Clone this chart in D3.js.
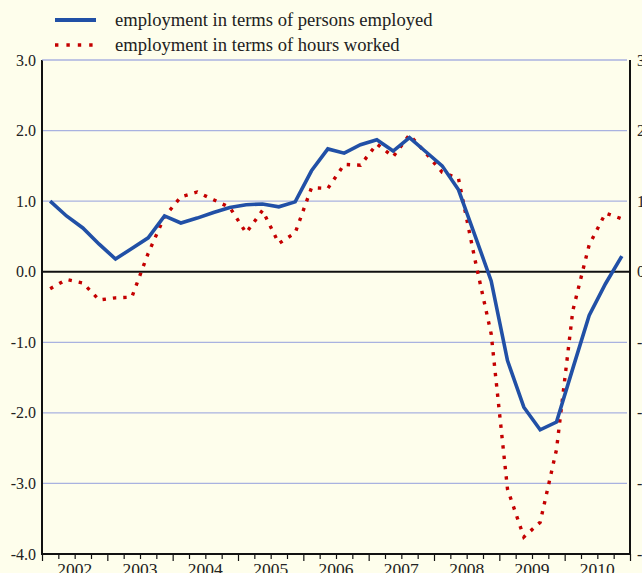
<!DOCTYPE html>
<html>
<head>
<meta charset="utf-8">
<script src="https://cdn.jsdelivr.net/npm/d3@7"></script>
<style>
  html, body { margin: 0; padding: 0; background: #fefeec; }
  svg { display: block; }
  text { font-family: "Liberation Serif", "Times New Roman", serif; fill: #222; }
</style>
</head>
<body>
<svg id="chart" width="642" height="573"></svg>
<script>
// Quarterly periods, 2002Q1 .. 2010Q4
const periods = [
  "2002Q1","2002Q2","2002Q3","2002Q4",
  "2003Q1","2003Q2","2003Q3","2003Q4",
  "2004Q1","2004Q2","2004Q3","2004Q4",
  "2005Q1","2005Q2","2005Q3","2005Q4",
  "2006Q1","2006Q2","2006Q3","2006Q4",
  "2007Q1","2007Q2","2007Q3","2007Q4",
  "2008Q1","2008Q2","2008Q3","2008Q4",
  "2009Q1","2009Q2","2009Q3","2009Q4",
  "2010Q1","2010Q2","2010Q3","2010Q4"
];

// Year-on-year change, %
const personsEmployed = [
  1.00, 0.79, 0.62, 0.39,
  0.18, 0.33, 0.48, 0.79,
  0.69, 0.76, 0.84, 0.91,
  0.95, 0.96, 0.92, 0.99,
  1.43, 1.74, 1.68, 1.80,
  1.87, 1.71, 1.90, 1.70,
  1.50, 1.16, 0.52, -0.13,
  -1.26, -1.92, -2.24, -2.13,
  -1.37, -0.62, -0.17, 0.22
];

const hoursWorked = [
  -0.24, -0.11, -0.16, -0.40,
  -0.37, -0.36, 0.26, 0.78,
  1.06, 1.13, 1.02, 0.91,
  0.55, 0.87, 0.40, 0.55,
  1.19, 1.18, 1.52, 1.51,
  1.81, 1.63, 1.94, 1.68,
  1.41, 1.32, 0.18, -0.88,
  -3.08, -3.76, -3.55, -2.52,
  -0.55, 0.38, 0.83, 0.75
];

const years = [2002, 2003, 2004, 2005, 2006, 2007, 2008, 2009, 2010];
const yTicks = [3, 2, 1, 0, -1, -2, -3, -4];

const seriesNames = [
  "employment in terms of persons employed",
  "employment in terms of hours worked"
];

const svg = d3.select("#chart");
const plotLeft = 42, plotRight = 630, plotTop = 60, plotBottom = 554;

// period "YYYYQn" -> fractional year at the middle of the quarter
const periodTime = p => +p.slice(0, 4) + (+p.slice(5) - 0.5) / 4;

const x = d3.scaleLinear().domain([2002, 2011]).range([plotLeft, plotRight]);
const y = d3.scaleLinear().domain([-4, 3]).range([plotBottom, plotTop]);

const blue = "#2150a6", red = "#c40000", gridColor = "#a9b2e0";
// one decimal, plain hyphen for negatives
const fmt = d => d.toFixed(1);

// horizontal grid
svg.append("g")
  .selectAll("line")
  .data(yTicks.filter(v => v !== 0 && v !== -4))
  .join("line")
  .attr("x1", plotLeft).attr("x2", plotRight - 3)
  .attr("y1", d => y(d)).attr("y2", d => y(d))
  .attr("stroke", gridColor).attr("stroke-width", 1.2);

// left value labels
svg.append("g")
  .selectAll("text")
  .data(yTicks)
  .join("text")
  .attr("x", 36).attr("y", d => y(d))
  .attr("dy", "0.35em")
  .attr("text-anchor", "end")
  .style("font-size", "16px")
  .text(fmt);

// right value labels (run off the edge)
svg.append("g")
  .selectAll("text")
  .data(yTicks)
  .join("text")
  .attr("x", 637).attr("y", d => y(d))
  .attr("dy", "0.35em")
  .attr("text-anchor", "start")
  .style("font-size", "16px")
  .text(fmt);

// time axis: quarter ticks and centred year labels
const quarterTicks = d3.range(2002, 2011.01, 0.25);
const xAxis = d3.axisBottom(x)
  .tickValues(quarterTicks)
  .tickSize(5)
  .tickFormat("");
const gx = svg.append("g").attr("transform", `translate(0,${plotBottom})`).call(xAxis);
gx.select(".domain").remove();
gx.selectAll(".tick line")
  .attr("stroke", "#111")
  .attr("stroke-width", 1.2)
  .attr("y2", d => Math.abs(d - Math.round(d)) < 1e-6 ? 7 : 5);

svg.append("g")
  .selectAll("text")
  .data(years)
  .join("text")
  .attr("x", d => x(d + 0.5))
  .attr("y", 575)
  .attr("text-anchor", "middle")
  .style("font-size", "17.5px")
  .text(d => d);

// frame and zero line
const frame = svg.append("g").attr("stroke", "#111").attr("stroke-width", 2);
frame.append("line").attr("x1", plotLeft).attr("x2", plotLeft).attr("y1", plotTop).attr("y2", plotBottom + 1);
frame.append("line").attr("x1", plotRight).attr("x2", plotRight).attr("y1", plotTop).attr("y2", plotBottom + 1);
frame.append("line").attr("x1", plotLeft - 1).attr("x2", plotRight + 1).attr("y1", plotBottom).attr("y2", plotBottom);
frame.append("line").attr("x1", plotLeft).attr("x2", plotRight).attr("y1", y(0)).attr("y2", y(0));
svg.append("line")
  .attr("x1", plotLeft).attr("x2", plotRight - 3).attr("y1", y(3)).attr("y2", y(3))
  .attr("stroke", gridColor).attr("stroke-width", 1.2);

// series lines
const line = d3.line()
  .x((d, i) => x(periodTime(periods[i])))
  .y(d => y(d));

svg.append("path")
  .datum(hoursWorked)
  .attr("d", line)
  .attr("fill", "none")
  .attr("stroke", red)
  .attr("stroke-width", 3.4)
  .attr("stroke-dasharray", "3.4,7");

svg.append("path")
  .datum(personsEmployed)
  .attr("d", line)
  .attr("fill", "none")
  .attr("stroke", blue)
  .attr("stroke-width", 3.6)
  .attr("stroke-linejoin", "miter");

// legend
const legend = svg.append("g");
legend.append("line")
  .attr("x1", 55).attr("x2", 96).attr("y1", 20).attr("y2", 20)
  .attr("stroke", blue).attr("stroke-width", 4);
legend.append("line")
  .attr("x1", 55).attr("x2", 96).attr("y1", 45).attr("y2", 45)
  .attr("stroke", red).attr("stroke-width", 3.4)
  .attr("stroke-dasharray", "3.4,8");
legend.selectAll("text")
  .data(seriesNames)
  .join("text")
  .attr("x", 115)
  .attr("y", (d, i) => 26 + i * 25)
  .style("font-size", "18.6px")
  .text(d => d);
</script>
</body>
</html>
